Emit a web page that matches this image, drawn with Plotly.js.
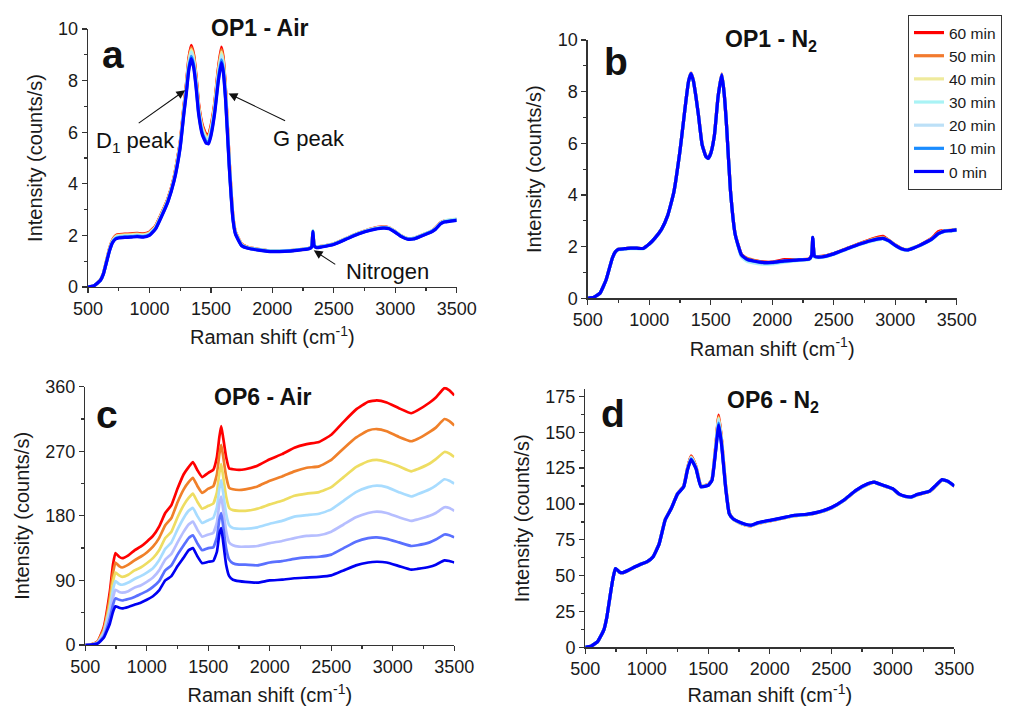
<!DOCTYPE html>
<html>
<head>
<meta charset="utf-8">
<script src="https://cdn.plot.ly/plotly-3.0.1.min.js"></script>
<style>
  html, body { margin: 0; padding: 0; background: #ffffff; }
  #chart { width: 1013px; height: 706px; }
</style>
</head>
<body>
<div id="chart"></div>
<script>
// ---------- Series labels (legend order, top to bottom) ----------
const seriesLabels = ['60 min', '50 min', '40 min', '30 min', '20 min', '10 min', '0 min'];

// ---------- Panel a: OP1 - Air ----------
const xA = [500,550,600,625,650,675,700,725,750,800,850,900,950,1000,1050,1100,1150,1200,1250,1280,
            1300,1320,1340,1360,1380,1400,1430,1460,1480,1500,1530,1560,1585,1600,1620,1650,1680,1700,1750,1800,
            1900,2000,2100,2200,2300,2320,2330,2340,2360,2400,2500,2600,2700,2800,2900,2950,3000,3050,3100,3150,
            3200,3300,3330,3370,3400,3450,3500];
const a60 = [0,0.05,0.26,0.52,1.0,1.48,1.82,1.99,2.03,2.05, 2.06,2.08,2.06,2.13,2.37,2.87,3.42,4.25,5.6,7.0,
             7.85,8.85,9.37,9.0,8.15,7.1,6.27,5.93,5.92,6.23, 7.1,8.45,9.3,8.9,7.6,4.85,2.72,2.13,1.66,1.54,
             1.45,1.39,1.4,1.44,1.5,1.57,2.17,1.63,1.55,1.58,1.68,1.88,2.08,2.25,2.33,2.3,2.15,1.98,1.88,1.89,1.98,2.18,2.3,2.5,2.56,2.58,2.62];
const a50 = [0,0.05,0.26,0.52,0.99,1.47,1.8,1.97,2.01,2.03, 2.04,2.06,2.04,2.11,2.35,2.85,3.4,4.22,5.57,6.95,
             7.79,8.77,9.28,8.92,8.07,7.03,6.21,5.87,5.86,6.17, 7.03,8.37,9.2,8.81,7.53,4.81,2.7,2.12,1.65,1.53,
             1.44,1.39,1.4,1.43,1.5,1.57,2.18,1.62,1.54,1.57,1.67,1.87,2.08,2.23,2.31,2.29,2.14,1.97,1.87,1.88,1.97,2.17,2.28,2.48,2.55,2.58,2.61];
const a40 = [0,0.05,0.26,0.51,0.98,1.45,1.79,1.95,1.99,2.01, 2.02,2.04,2.02,2.09,2.33,2.83,3.38,4.2,5.53,6.9,
             7.73,8.7,9.2,8.84,8.0,6.97,6.15,5.81,5.8,6.1, 6.97,8.29,9.1,8.72,7.47,4.77,2.68,2.1,1.64,1.53,
             1.44,1.38,1.39,1.43,1.49,1.56,2.17,1.62,1.54,1.57,1.67,1.87,2.07,2.23,2.31,2.29,2.14,1.97,1.87,1.88,1.97,2.17,2.27,2.48,2.55,2.59,2.62];
const a30 = [0,0.05,0.25,0.51,0.97,1.44,1.77,1.92,1.96,1.98, 1.99,2.01,1.99,2.06,2.31,2.81,3.36,4.17,5.5,6.85,
             7.67,8.62,9.11,8.75,7.92,6.9,6.08,5.75,5.73,6.04, 6.9,8.2,9.0,8.62,7.4,4.72,2.66,2.09,1.63,1.52,
             1.45,1.4,1.41,1.44,1.5,1.58,2.2,1.63,1.55,1.58,1.68,1.88,2.08,2.24,2.31,2.29,2.15,1.98,1.88,1.9,1.98,2.18,2.28,2.49,2.56,2.6,2.63];
const a20 = [0,0.05,0.25,0.51,0.97,1.43,1.75,1.9,1.94,1.96, 1.97,1.99,1.97,2.04,2.29,2.79,3.34,4.15,5.47,6.8,
             7.62,8.55,9.02,8.67,7.85,6.83,6.02,5.7,5.67,5.98, 6.83,8.12,8.9,8.53,7.33,4.68,2.64,2.08,1.62,1.51,
             1.43,1.38,1.39,1.43,1.49,1.56,2.17,1.61,1.53,1.56,1.66,1.86,2.06,2.22,2.3,2.28,2.13,1.96,1.86,1.87,1.96,2.16,2.26,2.47,2.54,2.57,2.6];
const a10 = [0,0.05,0.25,0.5,0.96,1.41,1.74,1.88,1.92,1.94, 1.95,1.97,1.95,2.02,2.27,2.77,3.32,4.13,5.43,6.75,
             7.56,8.48,8.94,8.59,7.78,6.77,5.96,5.64,5.61,5.91, 6.77,8.04,8.8,8.44,7.27,4.64,2.62,2.06,1.61,1.51,
             1.43,1.38,1.39,1.43,1.49,1.56,2.16,1.61,1.53,1.56,1.66,1.86,2.06,2.21,2.29,2.27,2.13,1.96,1.86,1.87,1.96,2.16,2.26,2.46,2.53,2.56,2.59];
const a0  = [0,0.05,0.25,0.5,0.95,1.4,1.72,1.86,1.9,1.92, 1.93,1.95,1.93,2.0,2.25,2.75,3.3,4.1,5.4,6.7,
             7.5,8.4,8.85,8.5,7.7,6.7,5.9,5.58,5.55,5.85, 6.7,7.95,8.7,8.35,7.2,4.6,2.6,2.05,1.6,1.5,
             1.42,1.37,1.38,1.42,1.48,1.55,2.15,1.6,1.52,1.55,1.65,1.85,2.05,2.2,2.28,2.26,2.12,1.95,1.85,1.86,1.95,2.15,2.25,2.45,2.52,2.55,2.58];

// ---------- Panel b: OP1 - N2 ----------
const xB = [500,550,600,650,700,725,750,800,850,900,950,1000,1050,1100,1150,1200,
            1250,1280,1300,1320,1340,1360,1380,1400,1430,1460,1480,1500,1530,1560,1590,1610,1630,1660,1700,
            1750,1800,1900,2000,2100,2200,2300,2320,2330,
            2345,2400,2500,2600,2700,2800,2900,2950,3000,3050,3100,3150,3200,3300,3350,3400,3450,3500];
const b60 = [0,0.04,0.2,0.72,1.55,1.8,1.9,1.92,1.94,1.94, 1.93,2.1,2.35,2.67,3.2,4.1,
             5.7,6.9,7.7,8.4,8.72,8.42,7.82,7.12,5.97, 5.52,5.44,5.62,6.32,7.82,8.68,7.92,6.62,4.22,2.47,
             1.7,1.52,1.42,1.4,1.5,1.5,1.53,1.66,2.35,
             1.63,1.62,1.73,1.92,2.1,2.28,2.4,2.24,2.07,1.93,1.88,1.96,2.06,2.33,2.58,2.62,2.63,2.66];
const b50 = [0,0.04,0.2,0.72,1.55,1.8,1.9,1.92,1.94,1.94, 1.93,2.1,2.35,2.67,3.2,4.1,
             5.7,6.9,7.7,8.4,8.71,8.41,7.81,7.11,5.96, 5.51,5.43,5.61,6.31,7.81,8.67,7.91,6.61,4.21,2.46,
             1.69,1.54,1.41,1.39,1.46,1.49,1.52,1.65,2.34,
             1.62,1.61,1.72,1.91,2.09,2.27,2.36,2.23,2.06,1.92,1.88,1.95,2.05,2.31,2.52,2.61,2.62,2.65];
const b40 = [0,0.04,0.2,0.72,1.55,1.8,1.9,1.92,1.94,1.94, 1.93,2.1,2.35,2.67,3.2,4.1,
             5.7,6.9,7.7,8.4,8.71,8.41,7.81,7.11,5.96, 5.51,5.43,5.61,6.31,7.81,8.67,7.91,6.61,4.21,2.46,
             1.66,1.49,1.39,1.38,1.44,1.48,1.51,1.64,2.33,
             1.61,1.6,1.71,1.9,2.08,2.24,2.33,2.23,2.06,1.92,1.9,1.97,2.05,2.3,2.5,2.62,2.63,2.68];
const b30 = [0,0.04,0.2,0.72,1.55,1.8,1.88,1.9,1.92,1.92, 1.92,2.09,2.34,2.66,3.19,4.09,
             5.69,6.89,7.69,8.39,8.69,8.39,7.79,7.09,5.94, 5.49,5.41,5.59,6.29,7.79,8.64,7.89,6.59,4.19,2.44,
             1.6,1.42,1.33,1.33,1.4,1.46,1.5,1.62,2.3,
             1.59,1.58,1.7,1.88,2.06,2.2,2.3,2.2,2.04,1.9,1.86,1.98,2.03,2.28,2.48,2.58,2.6,2.63];
const b20 = [0,0.04,0.2,0.72,1.55,1.8,1.89,1.91,1.93,1.93, 1.92,2.09,2.34,2.66,3.19,4.09,
             5.69,6.89,7.69,8.39,8.7,8.4,7.8,7.1,5.95, 5.5,5.42,5.6,6.3,7.8,8.65,7.9,6.6,4.2,2.45,
             1.65,1.46,1.36,1.36,1.43,1.47,1.51,1.64,2.34,
             1.61,1.59,1.71,1.89,2.07,2.22,2.31,2.21,2.04,1.91,1.86,1.94,2.04,2.29,2.49,2.59,2.61,2.64];
const b10 = [0,0.04,0.2,0.72,1.55,1.8,1.9,1.92,1.94,1.94, 1.93,2.1,2.35,2.67,3.2,4.1,
             5.7,6.9,7.7,8.4,8.7,8.4,7.8,7.1,5.95, 5.5,5.42,5.6,6.3,7.8,8.65,7.9,6.6,4.2,2.45,
             1.67,1.49,1.39,1.38,1.44,1.48,1.52,1.65,2.36,
             1.62,1.6,1.72,1.9,2.08,2.23,2.32,2.22,2.05,1.92,1.87,1.95,2.05,2.3,2.5,2.6,2.62,2.65];
const b0  = [0,0.04,0.2,0.72,1.55,1.8,1.9,1.92,1.94,1.94, 1.93,2.1,2.35,2.67,3.2,4.1,
             5.7,6.9,7.7,8.4,8.7,8.4,7.8,7.1,5.95, 5.5,5.42,5.6,6.3,7.8,8.65,7.9,6.6,4.2,2.45,
             1.68,1.5,1.4,1.39,1.45,1.48,1.52,1.65,2.36,
             1.62,1.6,1.72,1.9,2.08,2.23,2.32,2.22,2.05,1.92,1.87,1.95,2.05,2.3,2.5,2.6,2.62,2.65];

// ---------- Panel c: OP6 - Air ----------
const xC = [500,550,600,650,700,725,745,775,800,
            850,900,950,1000,1050,1100,1150,1200,1250,1300,
            1340,1375,1410,1450,1500,1540,1570,1590,1605,1620,1645,1670,
            1700,1750,1800,1900,2000,2100,2200,2300,2400,
            2500,2600,2700,2800,2870,2950,3050,3150,3200,3300,3350,3420,3460,3500];
const c60 = [0,1,5,25,75,112,128,123,121, 125,132,137,144,152,165,184,195,218,238,
             248,255,244,234,240,244,262,290,305,290,262,246, 245,244,245,250,259,266,275,280,283,
             293,311,328,339,341,338,330,323,327,338,345,358,355,348];
const c50 = [0,0.9,4.5,22,67,100,115,110,108, 112,118,123,129,137,149,167,177,199,217,
             227,233,222,212,218,221,238,266,279,264,235,219, 217,216,217,221,229,235,242,247,249,
             258,274,289,299,301,298,290,284,287,297,303,315,312,306];
const c40 = [0,0.8,3.9,19,58,88,101,97,95, 98,104,108,114,121,132,149,158,178,195,
             205,211,200,190,194,197,213,240,252,236,207,191, 188,187,187,190,196,201,208,211,213,
             220,234,248,256,258,255,249,242,245,253,259,269,267,262];
const c30 = [0,0.7,3.4,17,51,77,89,85,84, 87,92,96,101,107,118,134,143,161,177,
             187,191,180,170,174,177,192,218,230,213,183,167, 163,162,162,164,169,173,179,181,183,
             189,201,213,220,222,220,213,207,210,217,222,231,229,225];
const c20 = [0,0.7,2.9,15,44,66,77,74,73, 75,80,83,88,94,104,119,127,143,158,
             168,172,161,151,154,156,171,197,207,190,159,143, 139,137,137,138,142,145,149,152,153,
             158,168,178,184,186,184,178,173,175,180,184,192,191,187];
const c10 = [0,0.6,2.5,12,37,56,65,63,62, 64,67,71,75,81,89,104,111,126,139,
             149,153,142,132,135,136,150,175,184,167,135,119, 114,112,112,111,115,117,120,122,123,
             126,135,144,149,150,148,143,138,139,143,147,154,153,150];
const c0  = [0,0.5,2,10,30,46,54,52,51, 53,56,59,63,68,76,90,96,110,122,
             132,135,124,114,116,117,130,155,163,145,112,96, 91,89,88,87,90,91,93,94,95,
             97,104,111,115,116,115,110,105,106,109,112,118,117,115];

// ---------- Panel d: OP6 - N2 ----------
const xD = [500,550,600,650,675,700,725,745,775,800,
            850,900,950,1000,1050,1100,1150,1200,1250,1300,
            1330,1360,1400,1440,1500,1530,1560,1585,1610,1640,1670,
            1700,1750,1800,1850,1900,2000,2100,2200,2300,2400,
            2500,2600,2700,2800,2850,2900,3000,3050,3100,3150,3200,3300,3350,3400,3450,3500];
const d60 = [0,1,4,12,21,35,48,55,52.5,51.7, 53.6,55.8,57.9,59.5,63,72.3,89.3,97.2,107.3,112.4,
             124.5,133.5,126,112.8,113.5,117.2,140,162,143,113.5,93.8, 89.6,87,85.4,84.8,86.4,88.2,90,91.8,92.5,94.2,
             97.2,102.4,109.3,114,115.2,113.5,110.5,106.8,105.2,104.7,106.5,108.8,112.8,116.8,115.6,112.4];
const d50 = [0,1,4,12,21,35,48,55,52.6,51.8, 53.7,55.9,57.9,59.5,63,72.2,89.2,97.1,107.2,112.3,
             124.3,133,125.8,112.7,113.4,117.1,139.5,161,142.5,113.3,93.7, 89.6,87.1,85.5,84.9,86.5,88.3,90,91.9,92.6,94.3,
             97.3,102.4,109.3,114,115.2,113.5,110.5,106.8,105.2,104.7,106.5,108.8,112.8,116.8,115.6,112.4];
const d40 = [0,1,4,12,21,35,48,55,52.6,51.9, 53.7,55.9,58,59.5,63,72.2,89.2,97.1,107.1,112.2,
             124.1,132.6,125.5,112.5,113.3,116.9,139,160,142,113,93.6, 89.7,87.2,85.6,85,86.6,88.4,90.1,91.9,92.6,94.3,
             97.3,102.5,109.4,114.1,115.2,113.6,110.6,106.9,105.3,104.8,106.6,108.9,112.9,116.9,115.7,112.5];
const d30 = [0,1,4,12,21,35,48,55,52.6,51.9, 53.7,55.9,58,59.6,63,72.1,89.1,97.1,107.1,112.1,
             124,132.3,125.3,112.4,113.2,116.8,138.5,159,141.5,112.8,93.5, 89.6,87.1,85.5,84.9,86.5,88.4,90.1,91.9,92.6,94.3,
             97.3,102.4,109.3,114.1,115.1,113.5,110.5,106.9,105.3,104.8,106.6,108.9,112.9,116.9,115.7,112.5];
const d20 = [0,1,4,12,21,35,48,55,52.7,51.9, 53.8,56,58,59.6,63,72.1,89.1,97,107,112.1,
             123.8,132,125,112.3,113.1,116.7,138,158,141,112.5,93.4, 89.7,87.3,85.7,85,86.6,88.5,90.2,92,92.7,94.4,
             97.4,102.5,109.4,114.1,115.2,113.6,110.6,106.9,105.3,104.8,106.6,108.9,112.9,116.9,115.7,112.5];
const d10 = [0,1,4,12,21,35,48,55,52.7,52, 53.8,56,58,59.6,63,72,89,97,107,112,
             123.6,131.5,124.8,112.1,113,116.6,137.5,156.5,140.3,112.2,93.3, 89.8,87.4,85.8,85.1,86.7,88.5,90.2,92,92.7,94.4,
             97.4,102.5,109.4,114.1,115.2,113.6,110.6,106.9,105.3,104.8,106.6,108.9,112.9,116.9,115.7,112.5];
const d0  = [0,1,4,12,21,35,48,55,52.7,52, 53.8,56,58,59.6,63,72,89,97,107,112,
             123.5,131,124.6,112,113,116.5,137,155,139.7,112,93.3, 89.8,87.5,85.9,85.2,86.8,88.6,90.3,92.1,92.8,94.5,
             97.5,102.6,109.5,114.2,115.3,113.7,110.7,107,105.4,104.9,106.7,109,113,117,115.8,112.6];

// ---------- Styling ----------
const legendColors = ['#FF0000', '#F27A2E', '#EFEA9C', '#A9F3F5', '#BCE0F7', '#1A8CFF', '#0000FF'];
const panelCColors = ['#FF0000', '#F0802A', '#EEDD62', '#A8DCFF', '#B6BEFF', '#5A70FF', '#0000F2'];
const FONT = 'Liberation Sans, Arial, Helvetica, sans-serif';
const W = 1013, H = 706;
const px = v => v / W;
const py = v => 1 - v / H;

const panels = [
  { x: xA, ys: [a60, a50, a40, a30, a20, a10, a0], xa: 'x',  ya: 'y',  colors: legendColors, legend: false, width: 3.2 },
  { x: xB, ys: [b60, b50, b40, b30, b20, b10, b0], xa: 'x2', ya: 'y2', colors: legendColors, legend: true,  width: 3.2 },
  { x: xC, ys: [c60, c50, c40, c30, c20, c10, c0], xa: 'x3', ya: 'y3', colors: panelCColors, legend: false, width: 2.7 },
  { x: xD, ys: [d60, d50, d40, d30, d20, d10, d0], xa: 'x4', ya: 'y4', colors: legendColors, legend: false, width: 3.2 }
];

const traces = [];
panels.forEach(p => {
  p.ys.forEach((y, i) => {
    traces.push({
      type: 'scatter', mode: 'lines',
      x: p.x, y: y,
      xaxis: p.xa, yaxis: p.ya,
      name: seriesLabels[i],
      showlegend: p.legend,
      line: { color: p.colors[i], width: p.width, shape: 'spline', smoothing: 0.4 },
      hoverinfo: 'skip'
    });
  });
});

const axisBase = {
  showline: true, linecolor: '#333', linewidth: 1.3,
  ticks: 'outside', ticklen: 5, tickwidth: 1.3, tickcolor: '#333',
  showgrid: false, zeroline: false, mirror: false,
  tickfont: { family: FONT, size: 18, color: '#1a1a1a' },
  automargin: false
};
function xAxis(domain, anchor) {
  return Object.assign({}, axisBase, {
    domain: domain, anchor: anchor, range: [500, 3500], tick0: 500, dtick: 500,
    minor: { ticks: 'outside', ticklen: 3, tickcolor: '#333', dtick: 250, tick0: 500 },
    title: { text: 'Raman shift (cm<sup>-1</sup>)', font: { family: FONT, size: 20, color: '#1a1a1a' }, standoff: 12 }
  });
}
function yAxis(domain, anchor, range, dtick) {
  return Object.assign({}, axisBase, {
    domain: domain, anchor: anchor, range: range, tick0: 0, dtick: dtick,
    minor: { ticks: 'outside', ticklen: 3, tickcolor: '#333', dtick: dtick / 2, tick0: 0 },
    title: { text: 'Intensity (counts/s)', font: { family: FONT, size: 20, color: '#1a1a1a' }, standoff: 10 }
  });
}

const annFont = size => ({ family: FONT, size: size, color: '#111' });
const annotations = [
  // panel titles
  { text: '<b>OP1 - Air</b>', x: px(260), y: py(28.5), font: annFont(23) },
  { text: '<b>OP1 - N<sub>2</sub></b>', x: px(771), y: py(40.5), font: annFont(23) },
  { text: '<b>OP6 - Air</b>', x: px(263), y: py(396.7), font: annFont(23) },
  { text: '<b>OP6 - N<sub>2</sub></b>', x: px(773), y: py(401.5), font: annFont(23) },
  // panel letters
  { text: '<b>a</b>', x: px(112.7), y: py(55), font: annFont(39) },
  { text: '<b>b</b>', x: px(615.5), y: py(61), font: annFont(39) },
  { text: '<b>c</b>', x: px(106.7), y: py(414), font: annFont(39) },
  { text: '<b>d</b>', x: px(613), y: py(413.5), font: annFont(39) },
  // peak labels
  { text: 'D<sub>1</sub> peak', x: px(135), y: py(142), font: annFont(22) },
  { text: 'G peak', x: px(309), y: py(139), font: annFont(22) },
  { text: 'Nitrogen', x: px(387), y: py(272), font: annFont(22) }
].map(a => Object.assign({ xref: 'paper', yref: 'paper', showarrow: false, xanchor: 'center', yanchor: 'middle' }, a));

// arrows (head at a point of panel a, tail offset in pixels)
const arrows = [
  { x: 1291, y: 7.63, ax: -48, ay: 34 },
  { x: 1644, y: 7.5, ax: 58, ay: 28 },
  { x: 2337, y: 1.42, ax: 23, ay: 15 }
].map(a => Object.assign({
  xref: 'x', yref: 'y', text: '', showarrow: true,
  arrowhead: 2, arrowsize: 1.6, arrowwidth: 1.1, arrowcolor: '#111', standoff: 0, startstandoff: 0
}, a));

const layout = {
  width: W, height: H,
  margin: { l: 0, r: 0, t: 0, b: 0, pad: 0 },
  paper_bgcolor: '#ffffff', plot_bgcolor: '#ffffff',
  font: { family: FONT, color: '#1a1a1a' },
  showlegend: true,
  legend: {
    x: px(908), y: py(15), xanchor: 'left', yanchor: 'top',
    bgcolor: '#ffffff', bordercolor: '#333', borderwidth: 1,
    font: { family: FONT, size: 15.5, color: '#1a1a1a' },
    traceorder: 'normal', itemwidth: 30, tracegroupgap: 0
  },
  xaxis:  xAxis([px(88), px(456.7)], 'y'),
  yaxis:  yAxis([py(287), py(29)], 'x', [0, 10], 2),
  xaxis2: xAxis([px(587.7), px(956.7)], 'y2'),
  yaxis2: yAxis([py(298.3), py(40)], 'x2', [0, 10], 2),
  xaxis3: xAxis([px(85.3), px(454.3)], 'y3'),
  yaxis3: yAxis([py(645), py(386.7)], 'x3', [0, 360], 90),
  xaxis4: xAxis([px(585.3), px(954.3)], 'y4'),
  yaxis4: yAxis([py(647.3), py(389.3)], 'x4', [0, 180], 25),
  annotations: annotations.concat(arrows)
};
layout.yaxis4.tickvals = [0, 25, 50, 75, 100, 125, 150, 175];

Plotly.newPlot('chart', traces, layout, { staticPlot: true, displayModeBar: false });
</script>
</body>
</html>
